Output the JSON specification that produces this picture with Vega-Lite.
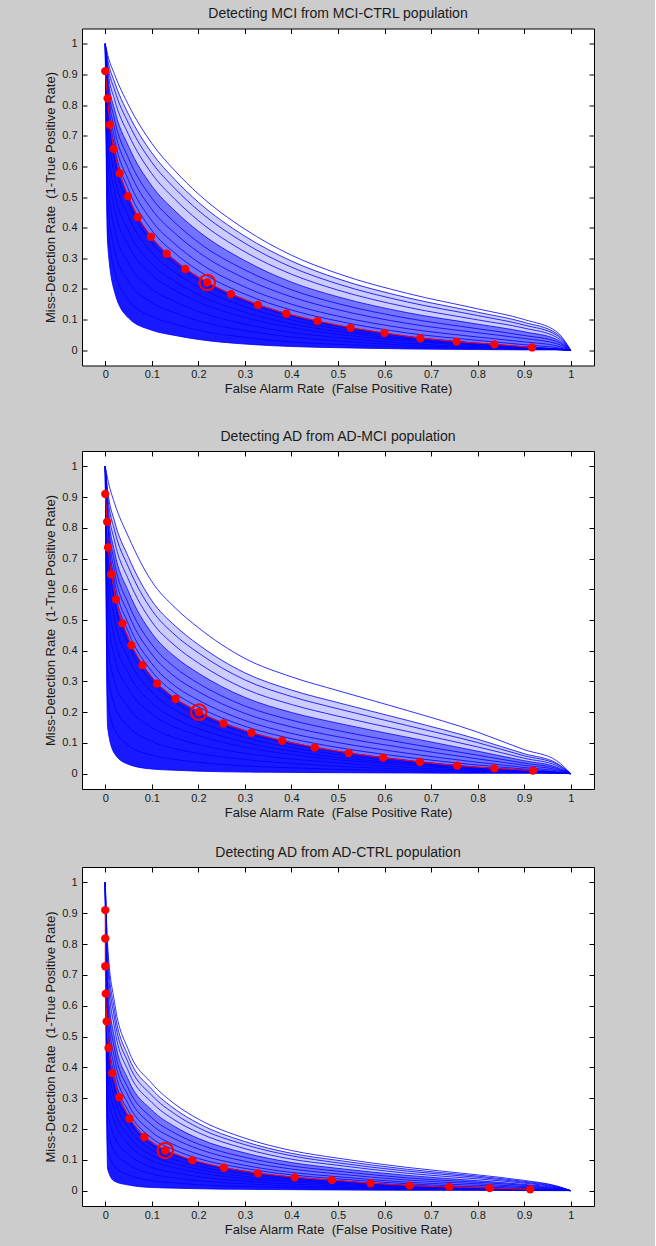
{
"$schema": "https://vega.github.io/schema/vega-lite/v6.json",
"background": "#cccccc",
"padding": {"left": 44, "top": 6.5, "right": 60, "bottom": 10},
"config": {
 "font": "Liberation Sans",
 "view": {"stroke": "#000000", "strokeWidth": 1, "fill": "#ffffff"},
 "axis": {"grid": false, "domain": false, "tickColor": "#000000", "tickSize": -5, "labelColor": "#1a1a1a", "titleColor": "#1a1a1a", "labelFont": "Liberation Sans", "titleFont": "Liberation Sans", "labelFontSize": 11, "titleFontSize": 13, "titleFontWeight": "normal"},
 "title": {"font": "Liberation Sans", "fontSize": 14, "fontWeight": "normal", "color": "#1a1a1a", "offset": 7}
},
"datasets": {
"p1": [
{"c":"a","x":0,"y":1},{"c":"a","x":0.005,"y":0.35},{"c":"a","x":0.02,"y":0.19},{"c":"a","x":0.05,"y":0.105},{"c":"a","x":0.1,"y":0.065},{"c":"a","x":0.15,"y":0.048},{"c":"a","x":0.2,"y":0.035},{"c":"a","x":0.3,"y":0.02},{"c":"a","x":0.4,"y":0.012},{"c":"a","x":0.5,"y":0.008},{"c":"a","x":0.65,"y":0.004},{"c":"a","x":0.8,"y":0.002},{"c":"a","x":0.9,"y":0.001},{"c":"a","x":0.97,"y":0.001},{"c":"a","x":1,"y":0},
{"c":"b","x":0,"y":1},{"c":"b","x":0.005,"y":0.42},{"c":"b","x":0.02,"y":0.258},{"c":"b","x":0.05,"y":0.164},{"c":"b","x":0.1,"y":0.11},{"c":"b","x":0.15,"y":0.085},{"c":"b","x":0.2,"y":0.065},{"c":"b","x":0.3,"y":0.042},{"c":"b","x":0.4,"y":0.027},{"c":"b","x":0.5,"y":0.019},{"c":"b","x":0.65,"y":0.01},{"c":"b","x":0.8,"y":0.005},{"c":"b","x":0.9,"y":0.003},{"c":"b","x":0.97,"y":0.002},{"c":"b","x":1,"y":0},
{"c":"c","x":0,"y":1},{"c":"c","x":0.005,"y":0.491},{"c":"c","x":0.02,"y":0.327},{"c":"c","x":0.05,"y":0.224},{"c":"c","x":0.1,"y":0.155},{"c":"c","x":0.15,"y":0.122},{"c":"c","x":0.2,"y":0.096},{"c":"c","x":0.3,"y":0.064},{"c":"c","x":0.4,"y":0.043},{"c":"c","x":0.5,"y":0.03},{"c":"c","x":0.65,"y":0.016},{"c":"c","x":0.8,"y":0.008},{"c":"c","x":0.9,"y":0.004},{"c":"c","x":0.97,"y":0.002},{"c":"c","x":1,"y":0},
{"c":"d","x":0,"y":1},{"c":"d","x":0.005,"y":0.562},{"c":"d","x":0.02,"y":0.395},{"c":"d","x":0.05,"y":0.283},{"c":"d","x":0.1,"y":0.2},{"c":"d","x":0.15,"y":0.158},{"c":"d","x":0.2,"y":0.126},{"c":"d","x":0.3,"y":0.085},{"c":"d","x":0.4,"y":0.058},{"c":"d","x":0.5,"y":0.041},{"c":"d","x":0.65,"y":0.022},{"c":"d","x":0.8,"y":0.011},{"c":"d","x":0.9,"y":0.006},{"c":"d","x":0.97,"y":0.002},{"c":"d","x":1,"y":0},
{"c":"e","x":0,"y":1},{"c":"e","x":0.005,"y":0.632},{"c":"e","x":0.02,"y":0.463},{"c":"e","x":0.05,"y":0.342},{"c":"e","x":0.1,"y":0.246},{"c":"e","x":0.15,"y":0.195},{"c":"e","x":0.2,"y":0.157},{"c":"e","x":0.3,"y":0.107},{"c":"e","x":0.4,"y":0.074},{"c":"e","x":0.5,"y":0.052},{"c":"e","x":0.65,"y":0.029},{"c":"e","x":0.8,"y":0.015},{"c":"e","x":0.9,"y":0.007},{"c":"e","x":0.97,"y":0.003},{"c":"e","x":1,"y":0},
{"c":"f","x":0,"y":1},{"c":"f","x":0.005,"y":0.688},{"c":"f","x":0.02,"y":0.518},{"c":"f","x":0.05,"y":0.389},{"c":"f","x":0.1,"y":0.282},{"c":"f","x":0.15,"y":0.224},{"c":"f","x":0.2,"y":0.181},{"c":"f","x":0.3,"y":0.124},{"c":"f","x":0.4,"y":0.086},{"c":"f","x":0.5,"y":0.061},{"c":"f","x":0.65,"y":0.034},{"c":"f","x":0.8,"y":0.017},{"c":"f","x":0.9,"y":0.008},{"c":"f","x":0.97,"y":0.003},{"c":"f","x":1,"y":0},
{"c":"g","x":0,"y":1},{"c":"g","x":0.005,"y":0.745},{"c":"g","x":0.02,"y":0.572},{"c":"g","x":0.05,"y":0.437},{"c":"g","x":0.1,"y":0.318},{"c":"g","x":0.15,"y":0.254},{"c":"g","x":0.2,"y":0.206},{"c":"g","x":0.3,"y":0.142},{"c":"g","x":0.4,"y":0.099},{"c":"g","x":0.5,"y":0.069},{"c":"g","x":0.65,"y":0.038},{"c":"g","x":0.8,"y":0.02},{"c":"g","x":0.9,"y":0.009},{"c":"g","x":0.97,"y":0.004},{"c":"g","x":1,"y":0},
{"c":"h","x":0,"y":1},{"c":"h","x":0.005,"y":0.797},{"c":"h","x":0.02,"y":0.622},{"c":"h","x":0.05,"y":0.48},{"c":"h","x":0.1,"y":0.351},{"c":"h","x":0.15,"y":0.281},{"c":"h","x":0.2,"y":0.228},{"c":"h","x":0.3,"y":0.158},{"c":"h","x":0.4,"y":0.11},{"c":"h","x":0.5,"y":0.077},{"c":"h","x":0.65,"y":0.043},{"c":"h","x":0.8,"y":0.022},{"c":"h","x":0.9,"y":0.011},{"c":"h","x":0.97,"y":0.004},{"c":"h","x":1,"y":0},
{"c":"m","x":0,"y":1},{"c":"m","x":0.005,"y":0.82},{"c":"m","x":0.02,"y":0.645},{"c":"m","x":0.05,"y":0.5},{"c":"m","x":0.1,"y":0.366},{"c":"m","x":0.15,"y":0.293},{"c":"m","x":0.2,"y":0.238},{"c":"m","x":0.3,"y":0.165},{"c":"m","x":0.4,"y":0.115},{"c":"m","x":0.5,"y":0.081},{"c":"m","x":0.65,"y":0.045},{"c":"m","x":0.8,"y":0.023},{"c":"m","x":0.9,"y":0.011},{"c":"m","x":0.97,"y":0.004},{"c":"m","x":1,"y":0},
{"c":"n","x":0,"y":1},{"c":"n","x":0.005,"y":0.832},{"c":"n","x":0.02,"y":0.665},{"c":"n","x":0.05,"y":0.524},{"c":"n","x":0.1,"y":0.391},{"c":"n","x":0.15,"y":0.316},{"c":"n","x":0.2,"y":0.26},{"c":"n","x":0.3,"y":0.183},{"c":"n","x":0.4,"y":0.131},{"c":"n","x":0.5,"y":0.095},{"c":"n","x":0.65,"y":0.056},{"c":"n","x":0.8,"y":0.032},{"c":"n","x":0.9,"y":0.018},{"c":"n","x":0.97,"y":0.008},{"c":"n","x":1,"y":0},
{"c":"o","x":0,"y":1},{"c":"o","x":0.005,"y":0.846},{"c":"o","x":0.02,"y":0.691},{"c":"o","x":0.05,"y":0.554},{"c":"o","x":0.1,"y":0.422},{"c":"o","x":0.15,"y":0.346},{"c":"o","x":0.2,"y":0.287},{"c":"o","x":0.3,"y":0.206},{"c":"o","x":0.4,"y":0.15},{"c":"o","x":0.5,"y":0.111},{"c":"o","x":0.65,"y":0.07},{"c":"o","x":0.8,"y":0.043},{"c":"o","x":0.9,"y":0.027},{"c":"o","x":0.97,"y":0.014},{"c":"o","x":1,"y":0},
{"c":"p","x":0,"y":1},{"c":"p","x":0.005,"y":0.864},{"c":"p","x":0.02,"y":0.722},{"c":"p","x":0.05,"y":0.59},{"c":"p","x":0.1,"y":0.459},{"c":"p","x":0.15,"y":0.381},{"c":"p","x":0.2,"y":0.32},{"c":"p","x":0.3,"y":0.234},{"c":"p","x":0.4,"y":0.174},{"c":"p","x":0.5,"y":0.132},{"c":"p","x":0.65,"y":0.087},{"c":"p","x":0.8,"y":0.057},{"c":"p","x":0.9,"y":0.038},{"c":"p","x":0.97,"y":0.021},{"c":"p","x":1,"y":0},
{"c":"q","x":0,"y":1},{"c":"q","x":0.005,"y":0.881},{"c":"q","x":0.02,"y":0.752},{"c":"q","x":0.05,"y":0.626},{"c":"q","x":0.1,"y":0.496},{"c":"q","x":0.15,"y":0.416},{"c":"q","x":0.2,"y":0.352},{"c":"q","x":0.3,"y":0.262},{"c":"q","x":0.4,"y":0.197},{"c":"q","x":0.5,"y":0.152},{"c":"q","x":0.65,"y":0.104},{"c":"q","x":0.8,"y":0.07},{"c":"q","x":0.9,"y":0.048},{"c":"q","x":0.97,"y":0.028},{"c":"q","x":1,"y":0},
{"c":"r","x":0,"y":1},{"c":"r","x":0.005,"y":0.9},{"c":"r","x":0.02,"y":0.785},{"c":"r","x":0.05,"y":0.665},{"c":"r","x":0.1,"y":0.536},{"c":"r","x":0.15,"y":0.454},{"c":"r","x":0.2,"y":0.388},{"c":"r","x":0.3,"y":0.292},{"c":"r","x":0.4,"y":0.222},{"c":"r","x":0.5,"y":0.174},{"c":"r","x":0.65,"y":0.122},{"c":"r","x":0.8,"y":0.085},{"c":"r","x":0.9,"y":0.06},{"c":"r","x":0.97,"y":0.035},{"c":"r","x":1,"y":0},
{"c":"s","x":0,"y":1},{"c":"s","x":0.005,"y":0.919},{"c":"s","x":0.02,"y":0.818},{"c":"s","x":0.05,"y":0.704},{"c":"s","x":0.1,"y":0.576},{"c":"s","x":0.15,"y":0.492},{"c":"s","x":0.2,"y":0.423},{"c":"s","x":0.3,"y":0.321},{"c":"s","x":0.4,"y":0.248},{"c":"s","x":0.5,"y":0.196},{"c":"s","x":0.65,"y":0.14},{"c":"s","x":0.8,"y":0.099},{"c":"s","x":0.9,"y":0.072},{"c":"s","x":0.97,"y":0.042},{"c":"s","x":1,"y":0},
{"c":"t","x":0,"y":1},{"c":"t","x":0.005,"y":0.936},{"c":"t","x":0.02,"y":0.849},{"c":"t","x":0.05,"y":0.74},{"c":"t","x":0.1,"y":0.613},{"c":"t","x":0.15,"y":0.527},{"c":"t","x":0.2,"y":0.456},{"c":"t","x":0.3,"y":0.349},{"c":"t","x":0.4,"y":0.271},{"c":"t","x":0.5,"y":0.216},{"c":"t","x":0.65,"y":0.157},{"c":"t","x":0.8,"y":0.113},{"c":"t","x":0.9,"y":0.082},{"c":"t","x":0.97,"y":0.049},{"c":"t","x":1,"y":0},
{"c":"u","x":0,"y":1},{"c":"u","x":0.005,"y":0.951},{"c":"u","x":0.02,"y":0.875},{"c":"u","x":0.05,"y":0.77},{"c":"u","x":0.1,"y":0.644},{"c":"u","x":0.15,"y":0.556},{"c":"u","x":0.2,"y":0.483},{"c":"u","x":0.3,"y":0.372},{"c":"u","x":0.4,"y":0.291},{"c":"u","x":0.5,"y":0.233},{"c":"u","x":0.65,"y":0.171},{"c":"u","x":0.8,"y":0.124},{"c":"u","x":0.9,"y":0.091},{"c":"u","x":0.97,"y":0.054},{"c":"u","x":1,"y":0},
{"c":"v","x":0,"y":1},{"c":"v","x":0.005,"y":0.965},{"c":"v","x":0.02,"y":0.9},{"c":"v","x":0.05,"y":0.8},{"c":"v","x":0.1,"y":0.675},{"c":"v","x":0.15,"y":0.585},{"c":"v","x":0.2,"y":0.51},{"c":"v","x":0.3,"y":0.395},{"c":"v","x":0.4,"y":0.31},{"c":"v","x":0.5,"y":0.25},{"c":"v","x":0.65,"y":0.185},{"c":"v","x":0.8,"y":0.135},{"c":"v","x":0.9,"y":0.1},{"c":"v","x":0.97,"y":0.06},{"c":"v","x":1,"y":0}
],
"p2": [
{"c":"a","x":0,"y":1},{"c":"a","x":0.005,"y":0.15},{"c":"a","x":0.02,"y":0.065},{"c":"a","x":0.05,"y":0.03},{"c":"a","x":0.1,"y":0.015},{"c":"a","x":0.15,"y":0.011},{"c":"a","x":0.2,"y":0.008},{"c":"a","x":0.3,"y":0.005},{"c":"a","x":0.4,"y":0.004},{"c":"a","x":0.5,"y":0.003},{"c":"a","x":0.65,"y":0.002},{"c":"a","x":0.8,"y":0.001},{"c":"a","x":0.9,"y":0.001},{"c":"a","x":0.97,"y":0.001},{"c":"a","x":1,"y":0},
{"c":"b","x":0,"y":1},{"c":"b","x":0.005,"y":0.245},{"c":"b","x":0.02,"y":0.143},{"c":"b","x":0.05,"y":0.092},{"c":"b","x":0.1,"y":0.06},{"c":"b","x":0.15,"y":0.046},{"c":"b","x":0.2,"y":0.037},{"c":"b","x":0.3,"y":0.025},{"c":"b","x":0.4,"y":0.019},{"c":"b","x":0.5,"y":0.014},{"c":"b","x":0.65,"y":0.008},{"c":"b","x":0.8,"y":0.004},{"c":"b","x":0.9,"y":0.003},{"c":"b","x":0.97,"y":0.002},{"c":"b","x":1,"y":0},
{"c":"c","x":0,"y":1},{"c":"c","x":0.005,"y":0.339},{"c":"c","x":0.02,"y":0.222},{"c":"c","x":0.05,"y":0.153},{"c":"c","x":0.1,"y":0.105},{"c":"c","x":0.15,"y":0.081},{"c":"c","x":0.2,"y":0.066},{"c":"c","x":0.3,"y":0.046},{"c":"c","x":0.4,"y":0.033},{"c":"c","x":0.5,"y":0.024},{"c":"c","x":0.65,"y":0.014},{"c":"c","x":0.8,"y":0.007},{"c":"c","x":0.9,"y":0.004},{"c":"c","x":0.97,"y":0.002},{"c":"c","x":1,"y":0},
{"c":"d","x":0,"y":1},{"c":"d","x":0.005,"y":0.434},{"c":"d","x":0.02,"y":0.3},{"c":"d","x":0.05,"y":0.215},{"c":"d","x":0.1,"y":0.15},{"c":"d","x":0.15,"y":0.116},{"c":"d","x":0.2,"y":0.095},{"c":"d","x":0.3,"y":0.066},{"c":"d","x":0.4,"y":0.048},{"c":"d","x":0.5,"y":0.035},{"c":"d","x":0.65,"y":0.02},{"c":"d","x":0.8,"y":0.01},{"c":"d","x":0.9,"y":0.006},{"c":"d","x":0.97,"y":0.002},{"c":"d","x":1,"y":0},
{"c":"e","x":0,"y":1},{"c":"e","x":0.005,"y":0.528},{"c":"e","x":0.02,"y":0.378},{"c":"e","x":0.05,"y":0.276},{"c":"e","x":0.1,"y":0.194},{"c":"e","x":0.15,"y":0.151},{"c":"e","x":0.2,"y":0.124},{"c":"e","x":0.3,"y":0.086},{"c":"e","x":0.4,"y":0.062},{"c":"e","x":0.5,"y":0.045},{"c":"e","x":0.65,"y":0.027},{"c":"e","x":0.8,"y":0.013},{"c":"e","x":0.9,"y":0.007},{"c":"e","x":0.97,"y":0.003},{"c":"e","x":1,"y":0},
{"c":"f","x":0,"y":1},{"c":"f","x":0.005,"y":0.604},{"c":"f","x":0.02,"y":0.441},{"c":"f","x":0.05,"y":0.325},{"c":"f","x":0.1,"y":0.23},{"c":"f","x":0.15,"y":0.179},{"c":"f","x":0.2,"y":0.147},{"c":"f","x":0.3,"y":0.102},{"c":"f","x":0.4,"y":0.074},{"c":"f","x":0.5,"y":0.053},{"c":"f","x":0.65,"y":0.032},{"c":"f","x":0.8,"y":0.015},{"c":"f","x":0.9,"y":0.008},{"c":"f","x":0.97,"y":0.003},{"c":"f","x":1,"y":0},
{"c":"g","x":0,"y":1},{"c":"g","x":0.005,"y":0.679},{"c":"g","x":0.02,"y":0.503},{"c":"g","x":0.05,"y":0.374},{"c":"g","x":0.1,"y":0.266},{"c":"g","x":0.15,"y":0.207},{"c":"g","x":0.2,"y":0.17},{"c":"g","x":0.3,"y":0.118},{"c":"g","x":0.4,"y":0.085},{"c":"g","x":0.5,"y":0.062},{"c":"g","x":0.65,"y":0.036},{"c":"g","x":0.8,"y":0.018},{"c":"g","x":0.9,"y":0.009},{"c":"g","x":0.97,"y":0.004},{"c":"g","x":1,"y":0},
{"c":"h","x":0,"y":1},{"c":"h","x":0.005,"y":0.749},{"c":"h","x":0.02,"y":0.561},{"c":"h","x":0.05,"y":0.42},{"c":"h","x":0.1,"y":0.299},{"c":"h","x":0.15,"y":0.232},{"c":"h","x":0.2,"y":0.191},{"c":"h","x":0.3,"y":0.133},{"c":"h","x":0.4,"y":0.096},{"c":"h","x":0.5,"y":0.07},{"c":"h","x":0.65,"y":0.041},{"c":"h","x":0.8,"y":0.02},{"c":"h","x":0.9,"y":0.011},{"c":"h","x":0.97,"y":0.004},{"c":"h","x":1,"y":0},
{"c":"m","x":0,"y":1},{"c":"m","x":0.005,"y":0.78},{"c":"m","x":0.02,"y":0.587},{"c":"m","x":0.05,"y":0.44},{"c":"m","x":0.1,"y":0.314},{"c":"m","x":0.15,"y":0.244},{"c":"m","x":0.2,"y":0.201},{"c":"m","x":0.3,"y":0.14},{"c":"m","x":0.4,"y":0.101},{"c":"m","x":0.5,"y":0.073},{"c":"m","x":0.65,"y":0.043},{"c":"m","x":0.8,"y":0.021},{"c":"m","x":0.9,"y":0.011},{"c":"m","x":0.97,"y":0.004},{"c":"m","x":1,"y":0},
{"c":"n","x":0,"y":1},{"c":"n","x":0.005,"y":0.791},{"c":"n","x":0.02,"y":0.605},{"c":"n","x":0.05,"y":0.46},{"c":"n","x":0.1,"y":0.333},{"c":"n","x":0.15,"y":0.262},{"c":"n","x":0.2,"y":0.217},{"c":"n","x":0.3,"y":0.154},{"c":"n","x":0.4,"y":0.114},{"c":"n","x":0.5,"y":0.085},{"c":"n","x":0.65,"y":0.053},{"c":"n","x":0.8,"y":0.028},{"c":"n","x":0.9,"y":0.015},{"c":"n","x":0.97,"y":0.006},{"c":"n","x":1,"y":0},
{"c":"o","x":0,"y":1},{"c":"o","x":0.005,"y":0.805},{"c":"o","x":0.02,"y":0.628},{"c":"o","x":0.05,"y":0.486},{"c":"o","x":0.1,"y":0.358},{"c":"o","x":0.15,"y":0.285},{"c":"o","x":0.2,"y":0.239},{"c":"o","x":0.3,"y":0.173},{"c":"o","x":0.4,"y":0.131},{"c":"o","x":0.5,"y":0.101},{"c":"o","x":0.65,"y":0.066},{"c":"o","x":0.8,"y":0.037},{"c":"o","x":0.9,"y":0.02},{"c":"o","x":0.97,"y":0.009},{"c":"o","x":1,"y":0},
{"c":"p","x":0,"y":1},{"c":"p","x":0.005,"y":0.823},{"c":"p","x":0.02,"y":0.657},{"c":"p","x":0.05,"y":0.519},{"c":"p","x":0.1,"y":0.389},{"c":"p","x":0.15,"y":0.315},{"c":"p","x":0.2,"y":0.267},{"c":"p","x":0.3,"y":0.196},{"c":"p","x":0.4,"y":0.152},{"c":"p","x":0.5,"y":0.12},{"c":"p","x":0.65,"y":0.082},{"c":"p","x":0.8,"y":0.048},{"c":"p","x":0.9,"y":0.027},{"c":"p","x":0.97,"y":0.013},{"c":"p","x":1,"y":0},
{"c":"q","x":0,"y":1},{"c":"q","x":0.005,"y":0.841},{"c":"q","x":0.02,"y":0.687},{"c":"q","x":0.05,"y":0.552},{"c":"q","x":0.1,"y":0.42},{"c":"q","x":0.15,"y":0.345},{"c":"q","x":0.2,"y":0.294},{"c":"q","x":0.3,"y":0.22},{"c":"q","x":0.4,"y":0.174},{"c":"q","x":0.5,"y":0.14},{"c":"q","x":0.65,"y":0.098},{"c":"q","x":0.8,"y":0.06},{"c":"q","x":0.9,"y":0.034},{"c":"q","x":0.97,"y":0.017},{"c":"q","x":1,"y":0},
{"c":"r","x":0,"y":1},{"c":"r","x":0.005,"y":0.863},{"c":"r","x":0.02,"y":0.722},{"c":"r","x":0.05,"y":0.592},{"c":"r","x":0.1,"y":0.457},{"c":"r","x":0.15,"y":0.38},{"c":"r","x":0.2,"y":0.327},{"c":"r","x":0.3,"y":0.248},{"c":"r","x":0.4,"y":0.199},{"c":"r","x":0.5,"y":0.164},{"c":"r","x":0.65,"y":0.118},{"c":"r","x":0.8,"y":0.073},{"c":"r","x":0.9,"y":0.042},{"c":"r","x":0.97,"y":0.021},{"c":"r","x":1,"y":0},
{"c":"s","x":0,"y":1},{"c":"s","x":0.005,"y":0.884},{"c":"s","x":0.02,"y":0.757},{"c":"s","x":0.05,"y":0.631},{"c":"s","x":0.1,"y":0.494},{"c":"s","x":0.15,"y":0.416},{"c":"s","x":0.2,"y":0.36},{"c":"s","x":0.3,"y":0.276},{"c":"s","x":0.4,"y":0.225},{"c":"s","x":0.5,"y":0.187},{"c":"s","x":0.65,"y":0.137},{"c":"s","x":0.8,"y":0.087},{"c":"s","x":0.9,"y":0.05},{"c":"s","x":0.97,"y":0.026},{"c":"s","x":1,"y":0},
{"c":"t","x":0,"y":1},{"c":"t","x":0.005,"y":0.906},{"c":"t","x":0.02,"y":0.792},{"c":"t","x":0.05,"y":0.671},{"c":"t","x":0.1,"y":0.532},{"c":"t","x":0.15,"y":0.451},{"c":"t","x":0.2,"y":0.393},{"c":"t","x":0.3,"y":0.305},{"c":"t","x":0.4,"y":0.251},{"c":"t","x":0.5,"y":0.211},{"c":"t","x":0.65,"y":0.156},{"c":"t","x":0.8,"y":0.101},{"c":"t","x":0.9,"y":0.058},{"c":"t","x":0.97,"y":0.031},{"c":"t","x":1,"y":0},
{"c":"u","x":0,"y":1},{"c":"u","x":0.005,"y":0.924},{"c":"u","x":0.02,"y":0.821},{"c":"u","x":0.05,"y":0.704},{"c":"u","x":0.1,"y":0.563},{"c":"u","x":0.15,"y":0.481},{"c":"u","x":0.2,"y":0.42},{"c":"u","x":0.3,"y":0.328},{"c":"u","x":0.4,"y":0.272},{"c":"u","x":0.5,"y":0.231},{"c":"u","x":0.65,"y":0.173},{"c":"u","x":0.8,"y":0.112},{"c":"u","x":0.9,"y":0.065},{"c":"u","x":0.97,"y":0.034},{"c":"u","x":1,"y":0},
{"c":"v","x":0,"y":1},{"c":"v","x":0.005,"y":0.96},{"c":"v","x":0.02,"y":0.88},{"c":"v","x":0.05,"y":0.77},{"c":"v","x":0.1,"y":0.625},{"c":"v","x":0.15,"y":0.54},{"c":"v","x":0.2,"y":0.475},{"c":"v","x":0.3,"y":0.375},{"c":"v","x":0.4,"y":0.315},{"c":"v","x":0.5,"y":0.27},{"c":"v","x":0.65,"y":0.205},{"c":"v","x":0.8,"y":0.135},{"c":"v","x":0.9,"y":0.078},{"c":"v","x":0.97,"y":0.042},{"c":"v","x":1,"y":0}
],
"p3": [
{"c":"a","x":0,"y":1},{"c":"a","x":0.005,"y":0.07},{"c":"a","x":0.02,"y":0.03},{"c":"a","x":0.05,"y":0.018},{"c":"a","x":0.1,"y":0.01},{"c":"a","x":0.15,"y":0.008},{"c":"a","x":0.2,"y":0.006},{"c":"a","x":0.3,"y":0.004},{"c":"a","x":0.4,"y":0.003},{"c":"a","x":0.5,"y":0.002},{"c":"a","x":0.65,"y":0.001},{"c":"a","x":0.8,"y":0.001},{"c":"a","x":0.9,"y":0},{"c":"a","x":0.97,"y":0},{"c":"a","x":1,"y":0},
{"c":"b","x":0,"y":1},{"c":"b","x":0.005,"y":0.135},{"c":"b","x":0.02,"y":0.078},{"c":"b","x":0.05,"y":0.051},{"c":"b","x":0.1,"y":0.032},{"c":"b","x":0.15,"y":0.025},{"c":"b","x":0.2,"y":0.019},{"c":"b","x":0.3,"y":0.013},{"c":"b","x":0.4,"y":0.009},{"c":"b","x":0.5,"y":0.007},{"c":"b","x":0.65,"y":0.003},{"c":"b","x":0.8,"y":0.002},{"c":"b","x":0.9,"y":0.001},{"c":"b","x":0.97,"y":0},{"c":"b","x":1,"y":0},
{"c":"c","x":0,"y":1},{"c":"c","x":0.005,"y":0.199},{"c":"c","x":0.02,"y":0.126},{"c":"c","x":0.05,"y":0.085},{"c":"c","x":0.1,"y":0.054},{"c":"c","x":0.15,"y":0.041},{"c":"c","x":0.2,"y":0.032},{"c":"c","x":0.3,"y":0.022},{"c":"c","x":0.4,"y":0.015},{"c":"c","x":0.5,"y":0.011},{"c":"c","x":0.65,"y":0.006},{"c":"c","x":0.8,"y":0.003},{"c":"c","x":0.9,"y":0.002},{"c":"c","x":0.97,"y":0.001},{"c":"c","x":1,"y":0},
{"c":"d","x":0,"y":1},{"c":"d","x":0.005,"y":0.264},{"c":"d","x":0.02,"y":0.174},{"c":"d","x":0.05,"y":0.118},{"c":"d","x":0.1,"y":0.075},{"c":"d","x":0.15,"y":0.058},{"c":"d","x":0.2,"y":0.045},{"c":"d","x":0.3,"y":0.031},{"c":"d","x":0.4,"y":0.021},{"c":"d","x":0.5,"y":0.016},{"c":"d","x":0.65,"y":0.008},{"c":"d","x":0.8,"y":0.005},{"c":"d","x":0.9,"y":0.002},{"c":"d","x":0.97,"y":0.001},{"c":"d","x":1,"y":0},
{"c":"e","x":0,"y":1},{"c":"e","x":0.005,"y":0.328},{"c":"e","x":0.02,"y":0.222},{"c":"e","x":0.05,"y":0.151},{"c":"e","x":0.1,"y":0.097},{"c":"e","x":0.15,"y":0.074},{"c":"e","x":0.2,"y":0.058},{"c":"e","x":0.3,"y":0.039},{"c":"e","x":0.4,"y":0.028},{"c":"e","x":0.5,"y":0.02},{"c":"e","x":0.65,"y":0.011},{"c":"e","x":0.8,"y":0.006},{"c":"e","x":0.9,"y":0.003},{"c":"e","x":0.97,"y":0.001},{"c":"e","x":1,"y":0},
{"c":"f","x":0,"y":1},{"c":"f","x":0.005,"y":0.38},{"c":"f","x":0.02,"y":0.26},{"c":"f","x":0.05,"y":0.178},{"c":"f","x":0.1,"y":0.114},{"c":"f","x":0.15,"y":0.087},{"c":"f","x":0.2,"y":0.069},{"c":"f","x":0.3,"y":0.046},{"c":"f","x":0.4,"y":0.033},{"c":"f","x":0.5,"y":0.024},{"c":"f","x":0.65,"y":0.013},{"c":"f","x":0.8,"y":0.007},{"c":"f","x":0.9,"y":0.004},{"c":"f","x":0.97,"y":0.001},{"c":"f","x":1,"y":0},
{"c":"g","x":0,"y":1},{"c":"g","x":0.005,"y":0.431},{"c":"g","x":0.02,"y":0.299},{"c":"g","x":0.05,"y":0.204},{"c":"g","x":0.1,"y":0.132},{"c":"g","x":0.15,"y":0.1},{"c":"g","x":0.2,"y":0.079},{"c":"g","x":0.3,"y":0.054},{"c":"g","x":0.4,"y":0.037},{"c":"g","x":0.5,"y":0.027},{"c":"g","x":0.65,"y":0.014},{"c":"g","x":0.8,"y":0.008},{"c":"g","x":0.9,"y":0.004},{"c":"g","x":0.97,"y":0.002},{"c":"g","x":1,"y":0},
{"c":"h","x":0,"y":1},{"c":"h","x":0.005,"y":0.479},{"c":"h","x":0.02,"y":0.334},{"c":"h","x":0.05,"y":0.229},{"c":"h","x":0.1,"y":0.148},{"c":"h","x":0.15,"y":0.113},{"c":"h","x":0.2,"y":0.089},{"c":"h","x":0.3,"y":0.06},{"c":"h","x":0.4,"y":0.042},{"c":"h","x":0.5,"y":0.031},{"c":"h","x":0.65,"y":0.016},{"c":"h","x":0.8,"y":0.009},{"c":"h","x":0.9,"y":0.005},{"c":"h","x":0.97,"y":0.002},{"c":"h","x":1,"y":0},
{"c":"m","x":0,"y":1},{"c":"m","x":0.005,"y":0.5},{"c":"m","x":0.02,"y":0.35},{"c":"m","x":0.05,"y":0.24},{"c":"m","x":0.1,"y":0.155},{"c":"m","x":0.15,"y":0.118},{"c":"m","x":0.2,"y":0.093},{"c":"m","x":0.3,"y":0.063},{"c":"m","x":0.4,"y":0.044},{"c":"m","x":0.5,"y":0.032},{"c":"m","x":0.65,"y":0.017},{"c":"m","x":0.8,"y":0.009},{"c":"m","x":0.9,"y":0.005},{"c":"m","x":0.97,"y":0.002},{"c":"m","x":1,"y":0},
{"c":"n","x":0,"y":1},{"c":"n","x":0.005,"y":0.524},{"c":"n","x":0.02,"y":0.371},{"c":"n","x":0.05,"y":0.257},{"c":"n","x":0.1,"y":0.17},{"c":"n","x":0.15,"y":0.131},{"c":"n","x":0.2,"y":0.104},{"c":"n","x":0.3,"y":0.072},{"c":"n","x":0.4,"y":0.051},{"c":"n","x":0.5,"y":0.038},{"c":"n","x":0.65,"y":0.022},{"c":"n","x":0.8,"y":0.012},{"c":"n","x":0.9,"y":0.007},{"c":"n","x":0.97,"y":0.003},{"c":"n","x":1,"y":0},
{"c":"o","x":0,"y":1},{"c":"o","x":0.005,"y":0.554},{"c":"o","x":0.02,"y":0.397},{"c":"o","x":0.05,"y":0.279},{"c":"o","x":0.1,"y":0.19},{"c":"o","x":0.15,"y":0.147},{"c":"o","x":0.2,"y":0.118},{"c":"o","x":0.3,"y":0.082},{"c":"o","x":0.4,"y":0.059},{"c":"o","x":0.5,"y":0.045},{"c":"o","x":0.65,"y":0.027},{"c":"o","x":0.8,"y":0.017},{"c":"o","x":0.9,"y":0.01},{"c":"o","x":0.97,"y":0.004},{"c":"o","x":1,"y":0},
{"c":"p","x":0,"y":1},{"c":"p","x":0.005,"y":0.59},{"c":"p","x":0.02,"y":0.428},{"c":"p","x":0.05,"y":0.305},{"c":"p","x":0.1,"y":0.213},{"c":"p","x":0.15,"y":0.167},{"c":"p","x":0.2,"y":0.135},{"c":"p","x":0.3,"y":0.095},{"c":"p","x":0.4,"y":0.07},{"c":"p","x":0.5,"y":0.054},{"c":"p","x":0.65,"y":0.034},{"c":"p","x":0.8,"y":0.022},{"c":"p","x":0.9,"y":0.013},{"c":"p","x":0.97,"y":0.006},{"c":"p","x":1,"y":0},
{"c":"q","x":0,"y":1},{"c":"q","x":0.005,"y":0.626},{"c":"q","x":0.02,"y":0.459},{"c":"q","x":0.05,"y":0.33},{"c":"q","x":0.1,"y":0.236},{"c":"q","x":0.15,"y":0.186},{"c":"q","x":0.2,"y":0.151},{"c":"q","x":0.3,"y":0.108},{"c":"q","x":0.4,"y":0.08},{"c":"q","x":0.5,"y":0.063},{"c":"q","x":0.65,"y":0.041},{"c":"q","x":0.8,"y":0.027},{"c":"q","x":0.9,"y":0.017},{"c":"q","x":0.97,"y":0.007},{"c":"q","x":1,"y":0},
{"c":"r","x":0,"y":1},{"c":"r","x":0.005,"y":0.665},{"c":"r","x":0.02,"y":0.493},{"c":"r","x":0.05,"y":0.358},{"c":"r","x":0.1,"y":0.261},{"c":"r","x":0.15,"y":0.207},{"c":"r","x":0.2,"y":0.169},{"c":"r","x":0.3,"y":0.122},{"c":"r","x":0.4,"y":0.091},{"c":"r","x":0.5,"y":0.072},{"c":"r","x":0.65,"y":0.049},{"c":"r","x":0.8,"y":0.032},{"c":"r","x":0.9,"y":0.02},{"c":"r","x":0.97,"y":0.009},{"c":"r","x":1,"y":0},
{"c":"s","x":0,"y":1},{"c":"s","x":0.005,"y":0.704},{"c":"s","x":0.02,"y":0.527},{"c":"s","x":0.05,"y":0.386},{"c":"s","x":0.1,"y":0.286},{"c":"s","x":0.15,"y":0.228},{"c":"s","x":0.2,"y":0.188},{"c":"s","x":0.3,"y":0.136},{"c":"s","x":0.4,"y":0.102},{"c":"s","x":0.5,"y":0.082},{"c":"s","x":0.65,"y":0.056},{"c":"s","x":0.8,"y":0.038},{"c":"s","x":0.9,"y":0.024},{"c":"s","x":0.97,"y":0.011},{"c":"s","x":1,"y":0},
{"c":"t","x":0,"y":1},{"c":"t","x":0.005,"y":0.74},{"c":"t","x":0.02,"y":0.558},{"c":"t","x":0.05,"y":0.412},{"c":"t","x":0.1,"y":0.309},{"c":"t","x":0.15,"y":0.248},{"c":"t","x":0.2,"y":0.204},{"c":"t","x":0.3,"y":0.149},{"c":"t","x":0.4,"y":0.113},{"c":"t","x":0.5,"y":0.09},{"c":"t","x":0.65,"y":0.063},{"c":"t","x":0.8,"y":0.043},{"c":"t","x":0.9,"y":0.027},{"c":"t","x":0.97,"y":0.012},{"c":"t","x":1,"y":0},
{"c":"u","x":0,"y":1},{"c":"u","x":0.005,"y":0.77},{"c":"u","x":0.02,"y":0.584},{"c":"u","x":0.05,"y":0.434},{"c":"u","x":0.1,"y":0.329},{"c":"u","x":0.15,"y":0.264},{"c":"u","x":0.2,"y":0.218},{"c":"u","x":0.3,"y":0.159},{"c":"u","x":0.4,"y":0.121},{"c":"u","x":0.5,"y":0.098},{"c":"u","x":0.65,"y":0.069},{"c":"u","x":0.8,"y":0.047},{"c":"u","x":0.9,"y":0.03},{"c":"u","x":0.97,"y":0.014},{"c":"u","x":1,"y":0},
{"c":"v","x":0,"y":1},{"c":"v","x":0.005,"y":0.8},{"c":"v","x":0.02,"y":0.61},{"c":"v","x":0.05,"y":0.455},{"c":"v","x":0.1,"y":0.348},{"c":"v","x":0.15,"y":0.28},{"c":"v","x":0.2,"y":0.232},{"c":"v","x":0.3,"y":0.17},{"c":"v","x":0.4,"y":0.13},{"c":"v","x":0.5,"y":0.105},{"c":"v","x":0.65,"y":0.075},{"c":"v","x":0.8,"y":0.051},{"c":"v","x":0.9,"y":0.033},{"c":"v","x":0.97,"y":0.015},{"c":"v","x":1,"y":0}
],
"r1": [
{"k":1,"x":0,"y":0.911},{"k":2,"x":0.005,"y":0.822},{"k":3,"x":0.01,"y":0.736},{"k":4,"x":0.018,"y":0.657},{"k":5,"x":0.031,"y":0.577},{"k":6,"x":0.049,"y":0.502},{"k":7,"x":0.07,"y":0.434},{"k":8,"x":0.098,"y":0.37},{"k":9,"x":0.132,"y":0.315},{"k":10,"x":0.172,"y":0.265},{"k":11,"x":0.219,"y":0.221,"op":1},{"k":12,"x":0.27,"y":0.183},{"k":13,"x":0.328,"y":0.148},{"k":14,"x":0.389,"y":0.119},{"k":15,"x":0.456,"y":0.095},{"k":16,"x":0.527,"y":0.073},{"k":17,"x":0.6,"y":0.056},{"k":18,"x":0.677,"y":0.039},{"k":19,"x":0.755,"y":0.028},{"k":20,"x":0.836,"y":0.019},{"k":21,"x":0.917,"y":0.009}
],
"r2": [
{"k":1,"x":0,"y":0.91},{"k":2,"x":0.004,"y":0.82},{"k":3,"x":0.006,"y":0.736},{"k":4,"x":0.013,"y":0.649},{"k":5,"x":0.023,"y":0.567},{"k":6,"x":0.037,"y":0.489},{"k":7,"x":0.056,"y":0.418},{"k":8,"x":0.08,"y":0.353},{"k":9,"x":0.111,"y":0.293},{"k":10,"x":0.151,"y":0.243},{"k":11,"x":0.201,"y":0.2,"op":1},{"k":12,"x":0.254,"y":0.163},{"k":13,"x":0.314,"y":0.133},{"k":14,"x":0.38,"y":0.107},{"k":15,"x":0.45,"y":0.085},{"k":16,"x":0.523,"y":0.067},{"k":17,"x":0.597,"y":0.052},{"k":18,"x":0.676,"y":0.038},{"k":19,"x":0.756,"y":0.026},{"k":20,"x":0.836,"y":0.017},{"k":21,"x":0.919,"y":0.01}
],
"r3": [
{"k":1,"x":0,"y":0.91},{"k":2,"x":0,"y":0.818},{"k":3,"x":0,"y":0.728},{"k":4,"x":0.001,"y":0.639},{"k":5,"x":0.003,"y":0.549},{"k":6,"x":0.007,"y":0.463},{"k":7,"x":0.015,"y":0.381},{"k":8,"x":0.03,"y":0.303},{"k":9,"x":0.052,"y":0.234},{"k":10,"x":0.084,"y":0.174},{"k":11,"x":0.129,"y":0.13,"op":1},{"k":12,"x":0.187,"y":0.098},{"k":13,"x":0.255,"y":0.074},{"k":14,"x":0.328,"y":0.056},{"k":15,"x":0.407,"y":0.043},{"k":16,"x":0.487,"y":0.034},{"k":17,"x":0.57,"y":0.024},{"k":18,"x":0.654,"y":0.016},{"k":19,"x":0.739,"y":0.012},{"k":20,"x":0.826,"y":0.008},{"k":21,"x":0.913,"y":0.004}
]
},
"spacing": 25.5,
"vconcat": [
{"spacing": 32.5, "vconcat": [
{
 "width": 512, "height": 337,
 "title": "Detecting MCI from MCI-CTRL population",
 "resolve": {"axis": {"x": "independent", "y": "independent"}},
 "layer": [
  {"data": {"name": "p1"}, "transform": [{"pivot": "c", "value": "y", "groupby": ["x"]}],
   "mark": {"type": "area", "interpolate": "monotone", "color": "#0000ff", "opacity": 0.9},
   "encoding": {"x": {"field": "x", "type": "quantitative", "scale": {"domain": [-0.05, 1.05], "nice": false, "zero": false}, "axis": null},
    "y": {"field": "a", "type": "quantitative", "scale": {"domain": [-0.05, 1.05], "nice": false, "zero": false}, "axis": null}, "y2": {"field": "m"}}},
  {"data": {"name": "p1"}, "transform": [{"pivot": "c", "value": "y", "groupby": ["x"]}],
   "mark": {"type": "area", "interpolate": "monotone", "color": "#0000ff", "opacity": 0.55},
   "encoding": {"x": {"field": "x", "type": "quantitative", "axis": null}, "y": {"field": "m", "type": "quantitative", "axis": null}, "y2": {"field": "r"}}},
  {"data": {"name": "p1"}, "transform": [{"pivot": "c", "value": "y", "groupby": ["x"]}],
   "mark": {"type": "area", "interpolate": "monotone", "color": "#0000ff", "opacity": 0.2},
   "encoding": {"x": {"field": "x", "type": "quantitative", "axis": null}, "y": {"field": "r", "type": "quantitative", "axis": null}, "y2": {"field": "u"}}},
  {"data": {"name": "p1"},
   "mark": {"type": "line", "interpolate": "monotone", "color": "#0000ff", "strokeWidth": 0.9, "opacity": 0.9},
   "encoding": {"x": {"field": "x", "type": "quantitative", "axis": {"orient": "bottom", "values": [0,0.1,0.2,0.3,0.4,0.5,0.6,0.7,0.8,0.9,1], "format": "~g", "labelPadding": 8, "titlePadding": 3, "title": "False Alarm Rate \u00a0(False Positive Rate)"}},
    "y": {"field": "y", "type": "quantitative", "axis": {"orient": "left", "values": [0,0.1,0.2,0.3,0.4,0.5,0.6,0.7,0.8,0.9,1], "format": "~g", "labelPadding": 10, "titlePadding": 4, "title": "Miss-Detection Rate \u00a0(1-True Positive Rate)"}},
    "detail": {"field": "c"}}},
  {"data": {"name": "r1"},
   "mark": {"type": "line", "color": "#ff0000", "strokeWidth": 1},
   "encoding": {"x": {"field": "x", "type": "quantitative", "axis": {"orient": "top", "values": [0,0.1,0.2,0.3,0.4,0.5,0.6,0.7,0.8,0.9,1], "labels": false, "title": null}},
    "y": {"field": "y", "type": "quantitative", "axis": {"orient": "right", "values": [0,0.1,0.2,0.3,0.4,0.5,0.6,0.7,0.8,0.9,1], "labels": false, "title": null}},
    "order": {"field": "k"}}},
  {"data": {"name": "r1"},
   "mark": {"type": "point", "shape": "circle", "filled": true, "color": "#ff0000", "size": 70, "opacity": 1},
   "encoding": {"x": {"field": "x", "type": "quantitative", "axis": null}, "y": {"field": "y", "type": "quantitative", "axis": null}}},
  {"data": {"name": "r1"}, "transform": [{"filter": "datum.op == 1"}],
   "mark": {"type": "point", "shape": "circle", "filled": false, "color": "#ff0000", "size": 240, "strokeWidth": 2.2, "opacity": 1},
   "encoding": {"x": {"field": "x", "type": "quantitative", "axis": null}, "y": {"field": "y", "type": "quantitative", "axis": null}}}
 ]
},
{
 "width": 512, "height": 338,
 "title": "Detecting AD from AD-MCI population",
 "resolve": {"axis": {"x": "independent", "y": "independent"}},
 "layer": [
  {"data": {"name": "p2"}, "transform": [{"pivot": "c", "value": "y", "groupby": ["x"]}],
   "mark": {"type": "area", "interpolate": "monotone", "color": "#0000ff", "opacity": 0.9},
   "encoding": {"x": {"field": "x", "type": "quantitative", "scale": {"domain": [-0.05, 1.05], "nice": false, "zero": false}, "axis": null},
    "y": {"field": "a", "type": "quantitative", "scale": {"domain": [-0.05, 1.05], "nice": false, "zero": false}, "axis": null}, "y2": {"field": "m"}}},
  {"data": {"name": "p2"}, "transform": [{"pivot": "c", "value": "y", "groupby": ["x"]}],
   "mark": {"type": "area", "interpolate": "monotone", "color": "#0000ff", "opacity": 0.55},
   "encoding": {"x": {"field": "x", "type": "quantitative", "axis": null}, "y": {"field": "m", "type": "quantitative", "axis": null}, "y2": {"field": "r"}}},
  {"data": {"name": "p2"}, "transform": [{"pivot": "c", "value": "y", "groupby": ["x"]}],
   "mark": {"type": "area", "interpolate": "monotone", "color": "#0000ff", "opacity": 0.2},
   "encoding": {"x": {"field": "x", "type": "quantitative", "axis": null}, "y": {"field": "r", "type": "quantitative", "axis": null}, "y2": {"field": "u"}}},
  {"data": {"name": "p2"},
   "mark": {"type": "line", "interpolate": "monotone", "color": "#0000ff", "strokeWidth": 0.9, "opacity": 0.9},
   "encoding": {"x": {"field": "x", "type": "quantitative", "axis": {"orient": "bottom", "values": [0,0.1,0.2,0.3,0.4,0.5,0.6,0.7,0.8,0.9,1], "format": "~g", "labelPadding": 8, "titlePadding": 3, "title": "False Alarm Rate \u00a0(False Positive Rate)"}},
    "y": {"field": "y", "type": "quantitative", "axis": {"orient": "left", "values": [0,0.1,0.2,0.3,0.4,0.5,0.6,0.7,0.8,0.9,1], "format": "~g", "labelPadding": 10, "titlePadding": 4, "title": "Miss-Detection Rate \u00a0(1-True Positive Rate)"}},
    "detail": {"field": "c"}}},
  {"data": {"name": "r2"},
   "mark": {"type": "line", "color": "#ff0000", "strokeWidth": 1},
   "encoding": {"x": {"field": "x", "type": "quantitative", "axis": {"orient": "top", "values": [0,0.1,0.2,0.3,0.4,0.5,0.6,0.7,0.8,0.9,1], "labels": false, "title": null}},
    "y": {"field": "y", "type": "quantitative", "axis": {"orient": "right", "values": [0,0.1,0.2,0.3,0.4,0.5,0.6,0.7,0.8,0.9,1], "labels": false, "title": null}},
    "order": {"field": "k"}}},
  {"data": {"name": "r2"},
   "mark": {"type": "point", "shape": "circle", "filled": true, "color": "#ff0000", "size": 70, "opacity": 1},
   "encoding": {"x": {"field": "x", "type": "quantitative", "axis": null}, "y": {"field": "y", "type": "quantitative", "axis": null}}},
  {"data": {"name": "r2"}, "transform": [{"filter": "datum.op == 1"}],
   "mark": {"type": "point", "shape": "circle", "filled": false, "color": "#ff0000", "size": 240, "strokeWidth": 2.2, "opacity": 1},
   "encoding": {"x": {"field": "x", "type": "quantitative", "axis": null}, "y": {"field": "y", "type": "quantitative", "axis": null}}}
 ]
}
]},
{
 "width": 512, "height": 339,
 "title": "Detecting AD from AD-CTRL population",
 "resolve": {"axis": {"x": "independent", "y": "independent"}},
 "layer": [
  {"data": {"name": "p3"}, "transform": [{"pivot": "c", "value": "y", "groupby": ["x"]}],
   "mark": {"type": "area", "interpolate": "monotone", "color": "#0000ff", "opacity": 0.9},
   "encoding": {"x": {"field": "x", "type": "quantitative", "scale": {"domain": [-0.05, 1.05], "nice": false, "zero": false}, "axis": null},
    "y": {"field": "a", "type": "quantitative", "scale": {"domain": [-0.05, 1.05], "nice": false, "zero": false}, "axis": null}, "y2": {"field": "m"}}},
  {"data": {"name": "p3"}, "transform": [{"pivot": "c", "value": "y", "groupby": ["x"]}],
   "mark": {"type": "area", "interpolate": "monotone", "color": "#0000ff", "opacity": 0.55},
   "encoding": {"x": {"field": "x", "type": "quantitative", "axis": null}, "y": {"field": "m", "type": "quantitative", "axis": null}, "y2": {"field": "r"}}},
  {"data": {"name": "p3"}, "transform": [{"pivot": "c", "value": "y", "groupby": ["x"]}],
   "mark": {"type": "area", "interpolate": "monotone", "color": "#0000ff", "opacity": 0.2},
   "encoding": {"x": {"field": "x", "type": "quantitative", "axis": null}, "y": {"field": "r", "type": "quantitative", "axis": null}, "y2": {"field": "u"}}},
  {"data": {"name": "p3"},
   "mark": {"type": "line", "interpolate": "monotone", "color": "#0000ff", "strokeWidth": 0.9, "opacity": 0.9},
   "encoding": {"x": {"field": "x", "type": "quantitative", "axis": {"orient": "bottom", "values": [0,0.1,0.2,0.3,0.4,0.5,0.6,0.7,0.8,0.9,1], "format": "~g", "labelPadding": 8, "titlePadding": 3, "title": "False Alarm Rate \u00a0(False Positive Rate)"}},
    "y": {"field": "y", "type": "quantitative", "axis": {"orient": "left", "values": [0,0.1,0.2,0.3,0.4,0.5,0.6,0.7,0.8,0.9,1], "format": "~g", "labelPadding": 10, "titlePadding": 4, "title": "Miss-Detection Rate \u00a0(1-True Positive Rate)"}},
    "detail": {"field": "c"}}},
  {"data": {"name": "r3"},
   "mark": {"type": "line", "color": "#ff0000", "strokeWidth": 1},
   "encoding": {"x": {"field": "x", "type": "quantitative", "axis": {"orient": "top", "values": [0,0.1,0.2,0.3,0.4,0.5,0.6,0.7,0.8,0.9,1], "labels": false, "title": null}},
    "y": {"field": "y", "type": "quantitative", "axis": {"orient": "right", "values": [0,0.1,0.2,0.3,0.4,0.5,0.6,0.7,0.8,0.9,1], "labels": false, "title": null}},
    "order": {"field": "k"}}},
  {"data": {"name": "r3"},
   "mark": {"type": "point", "shape": "circle", "filled": true, "color": "#ff0000", "size": 70, "opacity": 1},
   "encoding": {"x": {"field": "x", "type": "quantitative", "axis": null}, "y": {"field": "y", "type": "quantitative", "axis": null}}},
  {"data": {"name": "r3"}, "transform": [{"filter": "datum.op == 1"}],
   "mark": {"type": "point", "shape": "circle", "filled": false, "color": "#ff0000", "size": 240, "strokeWidth": 2.2, "opacity": 1},
   "encoding": {"x": {"field": "x", "type": "quantitative", "axis": null}, "y": {"field": "y", "type": "quantitative", "axis": null}}}
 ]
}
]
}
